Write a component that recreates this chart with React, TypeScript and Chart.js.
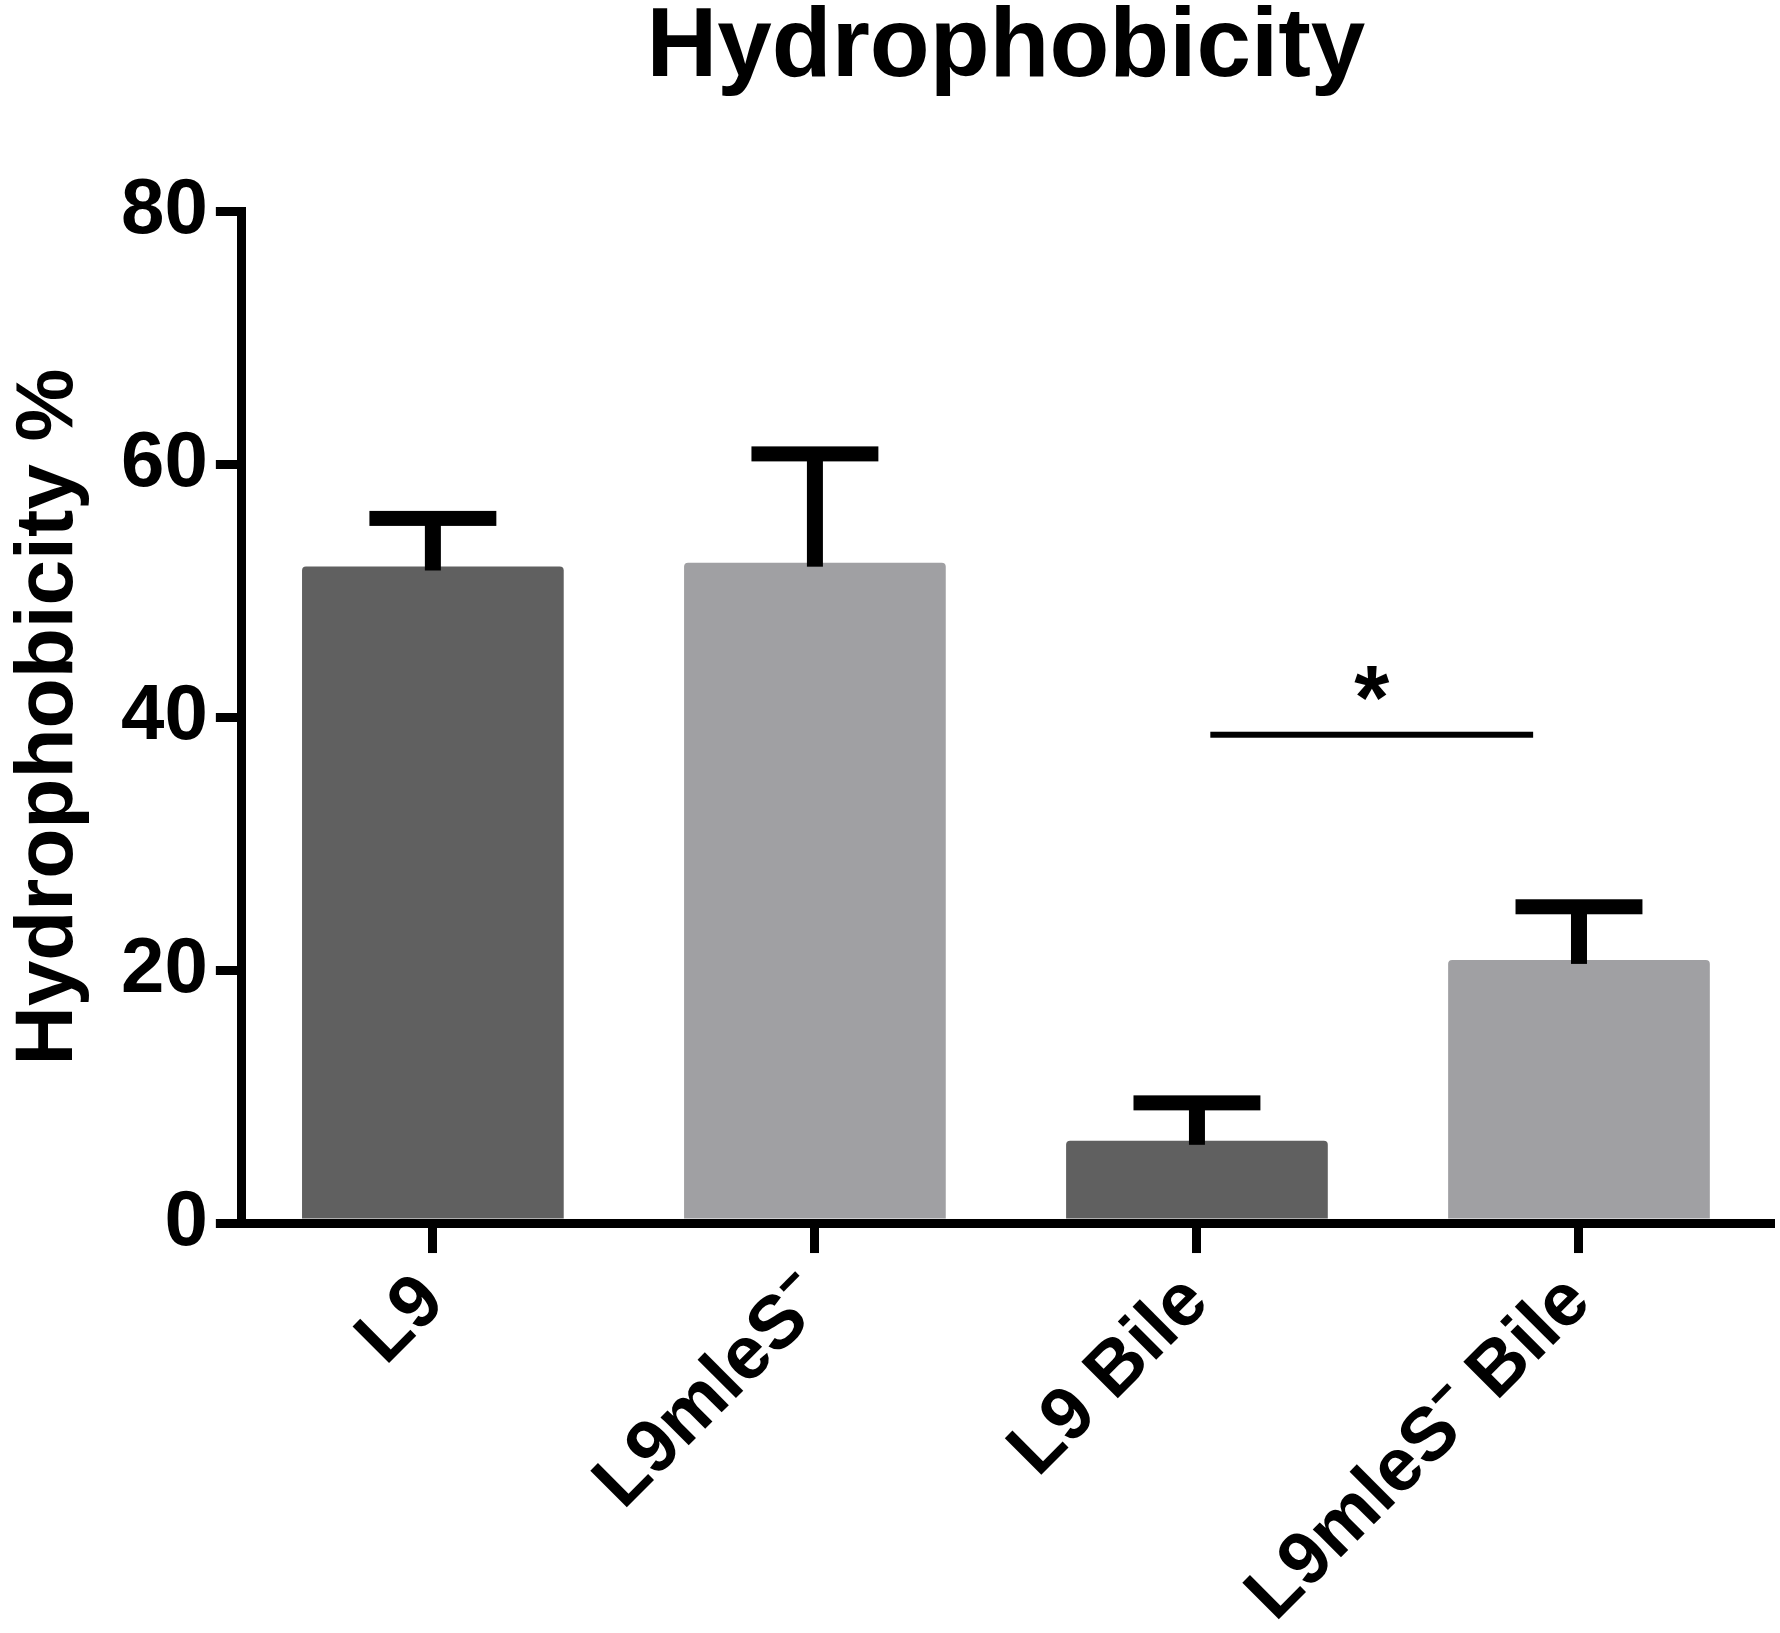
import { useEffect, useRef } from "react";
import { Chart, registerables } from "chart.js";

Chart.register(...registerables);

const categories = ["L9", "L9mleS⁻", "L9 Bile", "L9mleS⁻ Bile"];
const means = [51.9, 52.2, 6.5, 20.8];
const errorTops = [55.7, 60.8, 9.5, 25.0];
const barColors = ["#606060", "#a0a0a3", "#606060", "#a0a0a3"];
const yTickValues = [0, 20, 40, 60, 80];

// significance bracket between "L9 Bile" and "L9mleS- Bile"
const sigFrom = 2.035;
const sigTo = 2.88;
const sigLevel = 38.6;
const sigLabel = "*";

const FONT = "'Liberation Sans', Arial, Helvetica, sans-serif";

const errorBarPlugin = {
  id: "errorBars",
  afterDatasetsDraw(chart: any) {
    const { ctx } = chart;
    const x = chart.scales.x;
    const y = chart.scales.y;
    const meta = chart.getDatasetMeta(0);
    ctx.save();
    ctx.fillStyle = "#000";
    meta.data.forEach((bar: any, i: number) => {
      const top = y.getPixelForValue(errorTops[i]);
      const base = y.getPixelForValue(means[i]);
      const capW = bar.width * 0.485;
      ctx.fillRect(bar.x - 8, top, 16, base - top + 4);
      ctx.fillRect(bar.x - capW / 2, top - 7.5, capW, 15);
    });

    const x1 = x.getPixelForValue(sigFrom);
    const x2 = x.getPixelForValue(sigTo);
    const ly = y.getPixelForValue(sigLevel);
    ctx.fillRect(x1, ly - 3, x2 - x1, 6);
    ctx.font = `bold 90px ${FONT}`;
    ctx.textAlign = "center";
    ctx.textBaseline = "alphabetic";
    ctx.fillText(sigLabel, (x1 + x2) / 2, ly - 6);
    ctx.restore();
  },
};

export default function App() {
  const chartRef = useRef<HTMLCanvasElement>(null);
  const chartInstanceRef = useRef<Chart | null>(null);

  useEffect(() => {
    if (!chartRef.current) return;
    if (chartInstanceRef.current) {
      chartInstanceRef.current.destroy();
    }
    const ctx = chartRef.current.getContext("2d");
    if (!ctx) return;

    chartInstanceRef.current = new Chart(ctx, {
      type: "bar",
      data: {
        labels: categories,
        datasets: [
          {
            data: means,
            backgroundColor: barColors,
            borderWidth: 0,
            borderRadius: { topLeft: 4, topRight: 4 },
            borderSkipped: "bottom",
            categoryPercentage: 1,
            barPercentage: 0.685,
          },
        ],
      },
      options: {
        animation: false,
        responsive: true,
        maintainAspectRatio: false,
        layout: {
          padding: { left: 0, right: 10, top: 0, bottom: -12 },
        },
        plugins: {
          legend: { display: false },
          tooltip: { enabled: false },
          title: {
            display: true,
            text: "Hydrophobicity",
            color: "#000",
            fullSize: false,
            font: { family: FONT, size: 98, weight: "bold", lineHeight: 1 },
            padding: { top: 0, bottom: 113 },
          },
        },
        scales: {
          x: {
            z: 1,
            offset: true,
            border: { display: true, color: "#000", width: 9 },
            grid: {
              display: true,
              drawOnChartArea: false,
              drawTicks: true,
              tickLength: 30,
              lineWidth: 9,
              color: "#000",
              offset: false,
            },
            ticks: {
              color: "#000",
              autoSkip: false,
              maxRotation: 45,
              minRotation: 45,
              padding: 5,
              font: { family: FONT, size: 75, weight: "bold" },
            },
          },
          y: {
            z: 1,
            min: 0,
            max: 80,
            afterBuildTicks: (scale: any) => {
              scale.ticks = yTickValues.map((v) => ({ value: v }));
            },
            border: { display: true, color: "#000", width: 9 },
            grid: {
              display: true,
              drawOnChartArea: false,
              drawTicks: true,
              tickLength: 26,
              lineWidth: 9,
              color: "#000",
            },
            ticks: {
              color: "#000",
              padding: 8,
              font: { family: FONT, size: 78, weight: "bold" },
            },
            title: {
              display: true,
              text: "Hydrophobicity %",
              color: "#000",
              font: { family: FONT, size: 82, weight: "bold", lineHeight: 1.05 },
              padding: { top: 6, bottom: 21 },
            },
          },
        },
      },
      plugins: [errorBarPlugin],
    });

    return () => {
      if (chartInstanceRef.current) {
        chartInstanceRef.current.destroy();
        chartInstanceRef.current = null;
      }
    };
  }, []);

  return (
    <div
      style={{
        position: "absolute",
        left: 0,
        top: 0,
        width: 1780,
        height: 1633,
        background: "#fff",
      }}
    >
      <canvas ref={chartRef} />
    </div>
  );
}
